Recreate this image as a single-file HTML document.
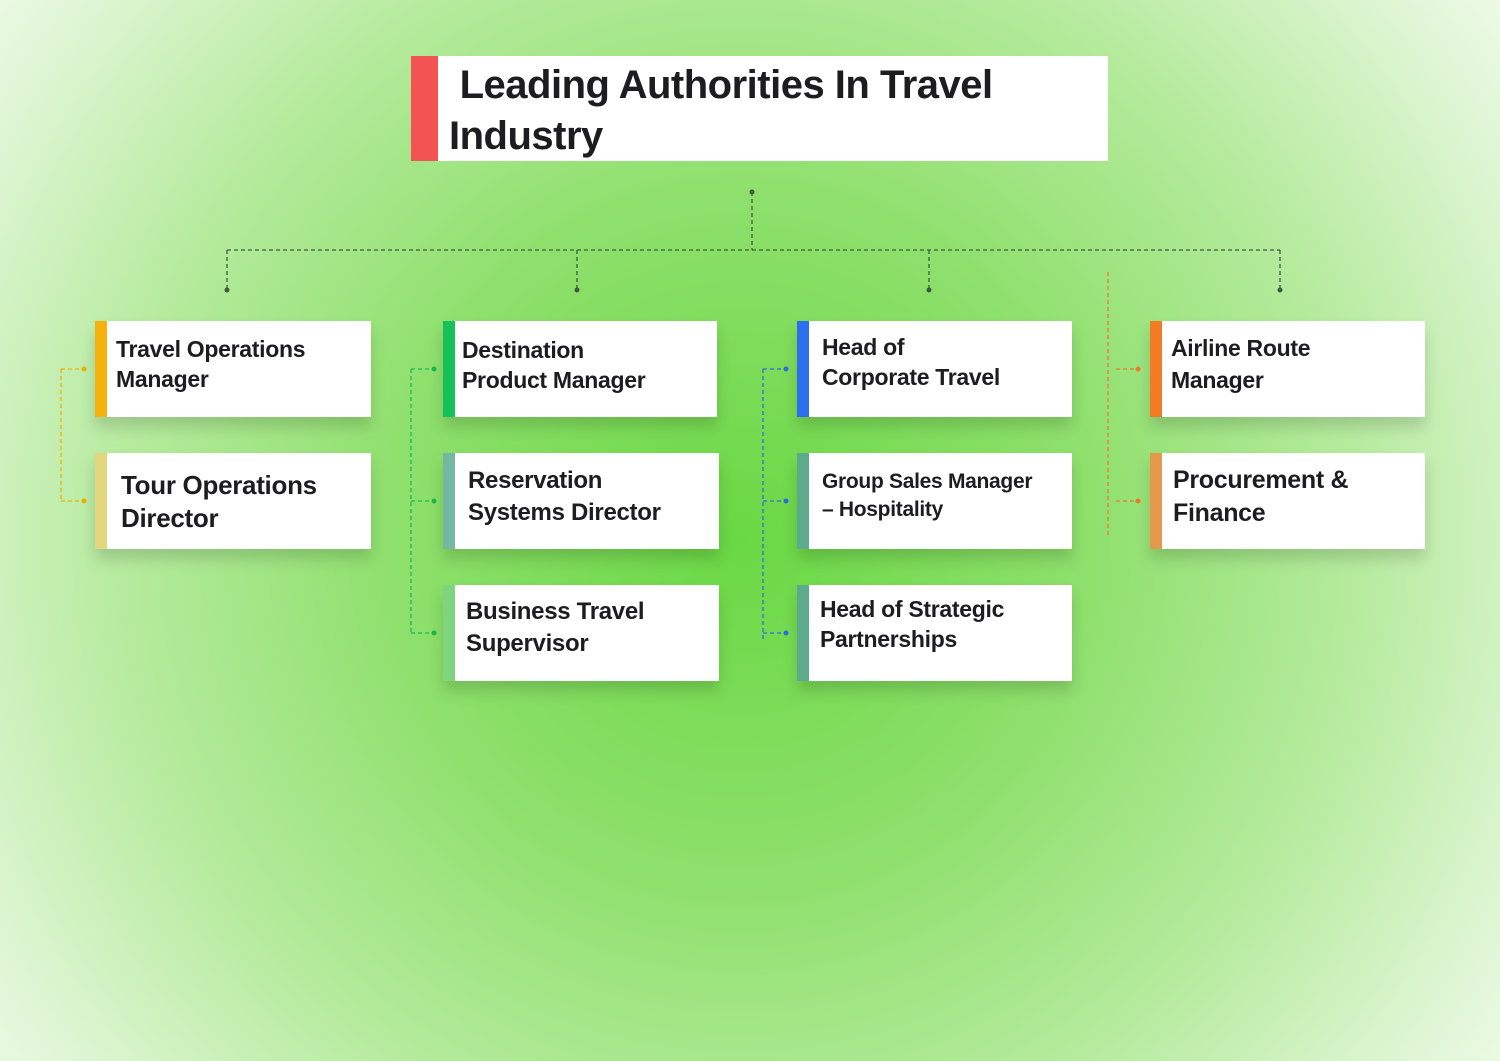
<!DOCTYPE html>
<html><head><meta charset="utf-8"><style>
body{margin:0;width:1500px;height:1061px;overflow:hidden;font-family:"Liberation Sans",sans-serif;
background:radial-gradient(ellipse 1000px 1000px at 740px 540px,#6ad844 0%,#8fe06d 35%,#b6eb9e 62%,#e0f6d6 85%,#f7fdf4 100%);position:relative}
.b{position:absolute;background:#fff;box-shadow:0 10px 14px rgba(0,0,0,0.15);}
.b .a{position:absolute;left:0;top:0;bottom:0;width:12px}
.b .t{position:absolute;font-weight:bold;color:#1d1d1f;font-size:23px;line-height:30px;letter-spacing:-0.3px}
svg{position:absolute;left:0;top:0}
</style></head><body>
<div class="b" style="left:411px;top:56px;width:697px;height:105px;box-shadow:none">
<div class="a" style="width:27px;background:#f45354"></div>
<div class="t" style="left:38px;top:4px;font-size:40px;line-height:51px;letter-spacing:-0.5px">&nbsp;Leading Authorities In Travel<br>Industry</div></div>
<svg width="1500" height="1061">
<g fill="none" stroke-dasharray="4,3" stroke-width="1.3">
<path d="M752 192V250M227 250H1280M227 250V290M577 250V290M929 250V290M1280 250V290" stroke="#3d5a40"/>
<path d="M61 369V501M61 369H84M61 501H84" stroke="#f2b100"/>
<path d="M411 369V633M411 369H434M411 501H434M411 633H434" stroke="#1cb94e"/>
<path d="M763 369V640M763 369H786M763 501H786M763 633H786" stroke="#2d6de0"/>
<path d="M1108 272V535M1116 369H1138M1116 501H1138" stroke="#f07a2a"/>
</g>
<g fill="#3d5a40"><circle cx="752" cy="192" r="2.5"/><circle cx="227" cy="290" r="2.5"/><circle cx="577" cy="290" r="2.5"/><circle cx="929" cy="290" r="2.5"/><circle cx="1280" cy="290" r="2.5"/></g>
<g fill="#f2b100"><circle cx="84" cy="369" r="2.5"/><circle cx="84" cy="501" r="2.5"/></g>
<g fill="#1cb94e"><circle cx="434" cy="369" r="2.5"/><circle cx="434" cy="501" r="2.5"/><circle cx="434" cy="633" r="2.5"/></g>
<g fill="#2d6de0"><circle cx="786" cy="369" r="2.5"/><circle cx="786" cy="501" r="2.5"/><circle cx="786" cy="633" r="2.5"/></g>
<g fill="#f07a2a"><circle cx="1138" cy="369" r="2.5"/><circle cx="1138" cy="501" r="2.5"/></g>
</svg>
<div class="b" style="left:95px;top:321px;width:276px;height:96px"><div class="a" style="background:#f7b10f"></div><div class="t" style="left:21px;top:13px">Travel Operations<br>Manager</div></div>
<div class="b" style="left:95px;top:453px;width:276px;height:96px"><div class="a" style="background:#e2d77d"></div><div class="t" style="left:26px;top:16px;font-size:26px;line-height:33px">Tour Operations<br>Director</div></div>
<div class="b" style="left:443px;top:321px;width:274px;height:96px"><div class="a" style="background:#17c15a"></div><div class="t" style="left:19px;top:14px">Destination<br>Product Manager</div></div>
<div class="b" style="left:443px;top:453px;width:276px;height:96px"><div class="a" style="background:#72b8a2"></div><div class="t" style="left:25px;top:12px;font-size:24px;line-height:32px">Reservation<br>Systems Director</div></div>
<div class="b" style="left:443px;top:585px;width:276px;height:96px"><div class="a" style="background:#7fd47e"></div><div class="t" style="left:23px;top:11px;font-size:24px;line-height:32px">Business Travel<br>Supervisor</div></div>
<div class="b" style="left:797px;top:321px;width:275px;height:96px"><div class="a" style="background:#2b6ef0"></div><div class="t" style="left:25px;top:11px">Head of<br>Corporate Travel</div></div>
<div class="b" style="left:797px;top:453px;width:275px;height:96px"><div class="a" style="background:#5cab8c"></div><div class="t" style="left:25px;top:15px;font-size:21px;line-height:28px">Group Sales Manager<br>– Hospitality</div></div>
<div class="b" style="left:797px;top:585px;width:275px;height:96px"><div class="a" style="background:#5cab8c"></div><div class="t" style="left:23px;top:9px">Head of Strategic<br>Partnerships</div></div>
<div class="b" style="left:1150px;top:321px;width:275px;height:96px"><div class="a" style="background:#f47b25"></div><div class="t" style="left:21px;top:11px;line-height:32px">Airline Route<br>Manager</div></div>
<div class="b" style="left:1150px;top:453px;width:275px;height:96px"><div class="a" style="background:#e39a4c"></div><div class="t" style="left:23px;top:11px;font-size:25px;line-height:33px">Procurement &amp;<br>Finance</div></div>
</body></html>
